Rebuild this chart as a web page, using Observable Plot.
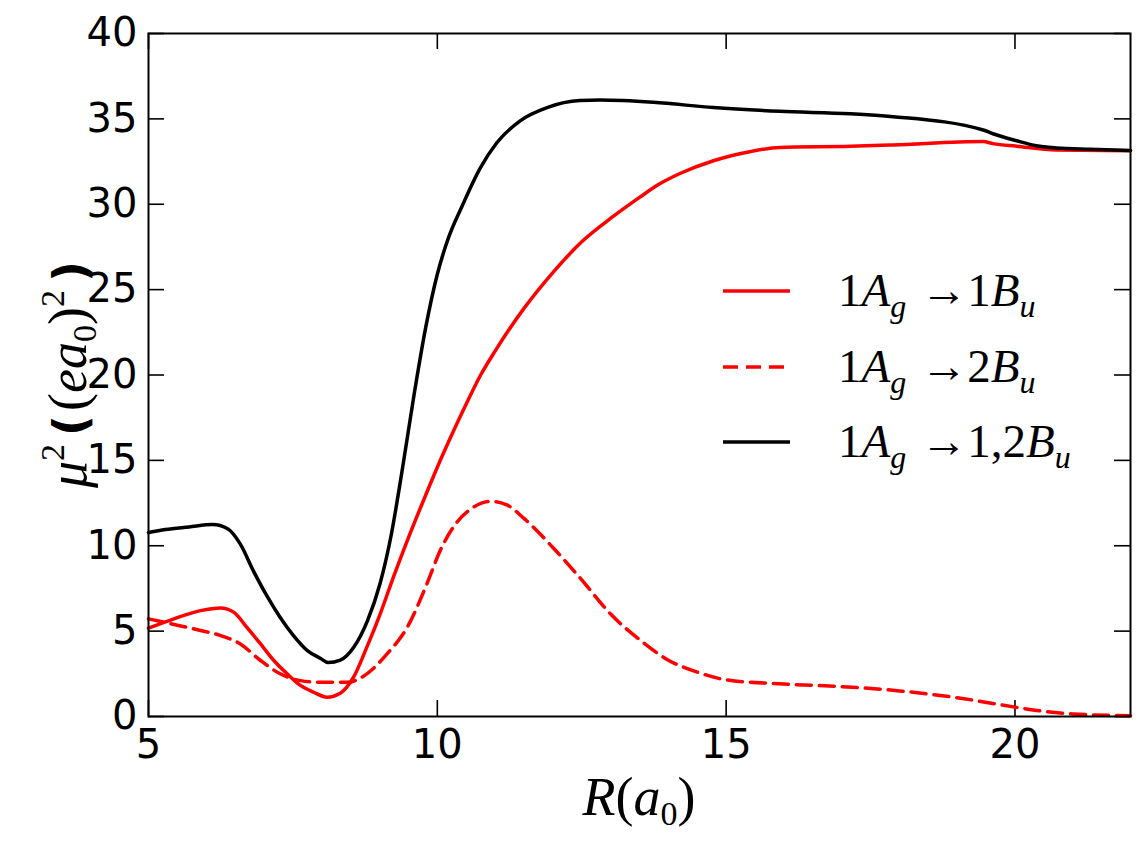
<!DOCTYPE html>
<html>
<head>
<meta charset="utf-8">
<script src="https://cdn.jsdelivr.net/npm/d3@7"></script>
<script src="https://cdn.jsdelivr.net/npm/@observablehq/plot@0.6"></script>
<style>
  html, body { margin: 0; padding: 0; background: #fff; }
  #chart { position: relative; width: 1146px; height: 845px; }
</style>
</head>
<body>
<div id="chart"></div>
<script>
// ---- data ----
const xTicks = [5, 10, 15, 20];
const yTicks = [0, 5, 10, 15, 20, 25, 30, 35, 40];

const rBlack = [5, 5.29, 5.7, 6.11, 6.37, 6.59, 6.82, 7.06, 7.28, 7.51, 7.75, 7.98, 8.11, 8.32, 8.55, 8.79, 9.01, 9.2, 9.4, 9.6, 9.8, 10.0, 10.2, 10.43, 10.74, 11.03, 11.44, 11.9, 12.47, 12.82, 13.74, 14.78, 15.93, 17.15, 17.89, 19.45, 19.62, 20.03, 20.37, 20.72, 21.3, 22];
const muBlack = [10.77, 10.95, 11.1, 11.24, 11.0, 10.1, 8.5, 7.0, 5.8, 4.74, 3.86, 3.4, 3.16, 3.3, 4.04, 5.6, 7.8, 10.6, 14.6, 18.9, 22.8, 25.9, 28.1, 29.9, 32.1, 33.6, 34.9, 35.66, 36.07, 36.1, 35.97, 35.66, 35.44, 35.3, 35.13, 34.35, 34.13, 33.72, 33.43, 33.3, 33.22, 33.15];

const rRed1 = [5, 5.44, 5.9, 6.25, 6.48, 6.7, 6.94, 7.17, 7.4, 7.63, 7.86, 8.09, 8.32, 8.55, 8.78, 9.01, 9.24, 9.48, 9.76, 10.0, 10.25, 10.5, 10.75, 11.0, 11.5, 12.0, 12.5, 13.05, 13.5, 13.8, 14.2, 14.78, 15.3, 15.93, 17.15, 17.89, 19.45, 19.62, 20.03, 20.72, 22];
const muRed1 = [5.17, 5.72, 6.2, 6.36, 6.1, 5.23, 4.25, 3.28, 2.5, 1.82, 1.42, 1.13, 1.36, 2.3, 4.06, 6.0, 8.16, 10.3, 12.65, 14.6, 16.5, 18.3, 20.0, 21.4, 23.9, 26.0, 27.8, 29.3, 30.4, 31.1, 31.8, 32.55, 33.0, 33.33, 33.39, 33.47, 33.67, 33.55, 33.4, 33.18, 33.14];

const rRed2 = [5, 5.44, 5.9, 6.25, 6.59, 6.94, 7.28, 7.63, 7.98, 8.44, 8.78, 9.13, 9.48, 9.82, 10.05, 10.34, 10.6, 10.92, 11.2, 11.5, 12, 12.5, 13, 13.5, 14, 14.5, 15, 16, 17, 18, 19, 20, 20.5, 21, 22];
const muRed2 = [5.72, 5.39, 5.04, 4.74, 4.25, 3.28, 2.5, 2.1, 2.0, 2.0, 2.5, 3.67, 5.23, 7.77, 9.72, 11.38, 12.2, 12.6, 12.4, 11.6, 9.9, 8.0, 6.0, 4.5, 3.3, 2.6, 2.15, 1.9, 1.75, 1.5, 1.1, 0.55, 0.3, 0.15, 0.05];

const seriesNames = ["1Ag→1Bu", "1Ag→2Bu", "1Ag→1,2Bu"];
const seriesColors = ["#ff0000", "#ff0000", "#000000"];
const seriesDash = [null, "15,8", null];

// ---- build table ----
const toRows = (xs, ys, s) => xs.map((x, i) => ({R: x, mu2: ys[i], series: s}));
const red1 = toRows(rRed1, muRed1, seriesNames[0]);
const red2 = toRows(rRed2, muRed2, seriesNames[1]);
const black = toRows(rBlack, muBlack, seriesNames[2]);

const W = 1146, H = 845;
const mL = 148, mR = 16, mT = 33, mB = 129;
const innerW = W - mL - mR, innerH = H - mT - mB;
const tickLen = 16;
const tickFont = 40;

const plot = Plot.plot({
  width: W,
  height: H,
  marginLeft: mL,
  marginRight: mR,
  marginTop: mT,
  marginBottom: mB,
  x: {domain: [5, 22]},
  y: {domain: [0, 40]},
  style: {fontFamily: "DejaVu Sans", fontSize: tickFont + "px", color: "#000", background: "#fff"},
  marks: [
    // inward ticks on all four sides
    Plot.tickX(xTicks, {x: d => d, insetTop: innerH - tickLen, stroke: "#000", strokeWidth: 1.6}),
    Plot.tickX(xTicks, {x: d => d, insetBottom: innerH - tickLen, stroke: "#000", strokeWidth: 1.6}),
    Plot.tickY(yTicks, {y: d => d, insetRight: innerW - tickLen, stroke: "#000", strokeWidth: 1.6}),
    Plot.tickY(yTicks, {y: d => d, insetLeft: innerW - tickLen, stroke: "#000", strokeWidth: 1.6}),
    Plot.lineY(red2, {x: "R", y: "mu2", stroke: seriesColors[1], strokeWidth: 3.5, strokeDasharray: seriesDash[1], curve: "monotone-x"}),
    Plot.lineY(red1, {x: "R", y: "mu2", stroke: seriesColors[0], strokeWidth: 3.5, curve: "monotone-x"}),
    Plot.lineY(black, {x: "R", y: "mu2", stroke: seriesColors[2], strokeWidth: 3.5, curve: "monotone-x"}),
    Plot.frame({stroke: "#000", strokeWidth: 2}),
    Plot.axisX(xTicks, {anchor: "bottom", tickSize: 0, tickPadding: 13, label: null, fontSize: tickFont}),
    Plot.axisY(yTicks, {anchor: "left", tickSize: 0, tickPadding: 11, label: null, fontSize: tickFont})
  ]
});

document.getElementById("chart").appendChild(plot);

// ---- axis titles and legend (text) ----
const svg = d3.select(plot);
const serif = "Liberation Serif";

// x label R(a0)
const xl = svg.append("text")
  .attr("x", mL + innerW / 2).attr("y", 815)
  .attr("text-anchor", "middle")
  .attr("font-family", serif).attr("font-size", 54).attr("fill", "#000");
xl.append("tspan").attr("font-style", "italic").text("R");
xl.append("tspan").text("(");
xl.append("tspan").attr("font-style", "italic").text("a");
xl.append("tspan").attr("font-size", 34).attr("dy", 10).text("0");
xl.append("tspan").attr("dy", -10).text(")");

// y label mu^2 ((e a0)^2)
const yl = svg.append("text")
  .attr("transform", `translate(86, ${mT + innerH / 2}) rotate(-90)`)
  .attr("text-anchor", "middle")
  .attr("font-family", serif).attr("font-size", 54).attr("fill", "#000");
yl.append("tspan").attr("font-style", "italic").text("μ");
yl.append("tspan").attr("font-size", 34).attr("dy", -22).text("2");
yl.append("tspan").attr("dy", 22).attr("dx", 8).attr("font-family", "DejaVu Sans").attr("font-weight", "bold").attr("font-size", 46).text("(");
yl.append("tspan").attr("dx", 4).text("(");
yl.append("tspan").attr("font-style", "italic").text("ea");
yl.append("tspan").attr("font-size", 34).attr("dy", 10).text("0");
yl.append("tspan").attr("dy", -10).text(")");
yl.append("tspan").attr("font-size", 34).attr("dy", -22).text("2");
yl.append("tspan").attr("dy", 22).attr("dx", 8).attr("font-family", "DejaVu Sans").attr("font-weight", "bold").attr("font-size", 46).text(")");

// legend
const legendRows = [
  {idx: 0, y: 291, mid: "1"},
  {idx: 1, y: 367, mid: "2"},
  {idx: 2, y: 442, mid: "1,2"}
];
legendRows.forEach(r => {
  const ln = svg.append("line")
    .attr("x1", 723).attr("x2", 790).attr("y1", r.y).attr("y2", r.y)
    .attr("stroke", seriesColors[r.idx]).attr("stroke-width", 3.5);
  if (seriesDash[r.idx]) ln.attr("stroke-dasharray", seriesDash[r.idx]);
  const t = svg.append("text")
    .attr("x", 838).attr("y", r.y + 15)
    .attr("text-anchor", "start")
    .attr("font-family", serif).attr("font-size", 47).attr("fill", "#000");
  t.append("tspan").text("1");
  t.append("tspan").attr("font-style", "italic").text("A");
  t.append("tspan").attr("font-style", "italic").attr("font-size", 32).attr("dy", 11).text("g");
  t.append("tspan").attr("dy", -11).attr("dx", 14).text("→" + r.mid);
  t.append("tspan").attr("font-style", "italic").text("B");
  t.append("tspan").attr("font-style", "italic").attr("font-size", 32).attr("dy", 11).text("u");
});
</script>
</body>
</html>
